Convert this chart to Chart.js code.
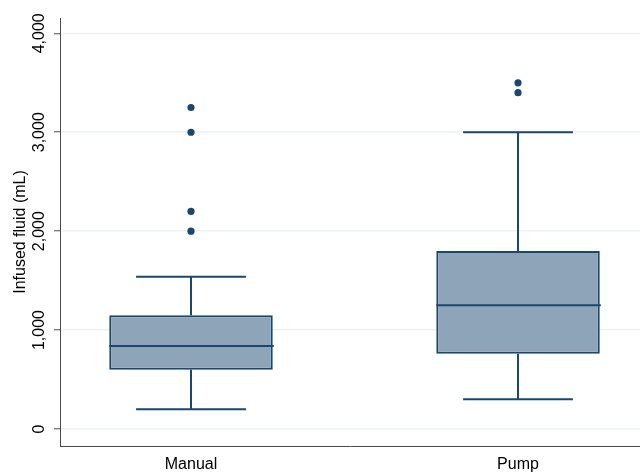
<!DOCTYPE html>
<html>
<head>
<meta charset="utf-8">
<script src="https://cdn.jsdelivr.net/npm/chart.js@4"></script>
<style>
  html, body { margin: 0; padding: 0; background: #ffffff; }
  #wrap { width: 640px; height: 473px; }
</style>
</head>
<body>
<div id="wrap"><canvas id="c" width="640" height="473"></canvas></div>
<script>
// ---- data ----
const categories = ['Manual', 'Pump'];
const q1Values = [600, 760];
const medianValues = [840, 1250];
const q3Values = [1150, 1800];
const whiskerLow = [200, 300];
const whiskerHigh = [1540, 3000];
const manualOutliers = [2000, 2200, 3000, 3250];
const pumpOutliers = [3400, 3500];
const yTickValues = [0, 1000, 2000, 3000, 4000];

const NAVY = '#1a476f';
const FILL = '#8ea4b8';
const AXIS = '#4d4d4d';
const GRID = '#eaf2f3';
const FONT = "'Liberation Sans', Arial, sans-serif";

const catPos = categories.map((c, i) => i + 1);
const boxData = categories.map((c, i) => ({ x: catPos[i], y: [q1Values[i], q3Values[i]] }));
const outlierData = [];
manualOutliers.forEach(v => outlierData.push({ x: catPos[0], y: v }));
pumpOutliers.forEach(v => outlierData.push({ x: catPos[1], y: v }));

const whiskerPlugin = {
  id: 'whiskers',
  afterDatasetsDraw(chart) {
    const { ctx, scales: { x, y } } = chart;
    const boxMeta = chart.getDatasetMeta(0);
    ctx.save();
    ctx.strokeStyle = NAVY;
    ctx.lineWidth = 2;
    categories.forEach((c, i) => {
      const cx = x.getPixelForValue(catPos[i]);
      const capL = x.getPixelForValue(catPos[i] - 0.168);
      const capR = x.getPixelForValue(catPos[i] + 0.168);
      const bar = boxMeta.data[i];
      const half = bar.width / 2;
      const yMed = y.getPixelForValue(medianValues[i]);
      const yQ1 = y.getPixelForValue(q1Values[i]);
      const yQ3 = y.getPixelForValue(q3Values[i]);
      const yLo = y.getPixelForValue(whiskerLow[i]);
      const yHi = y.getPixelForValue(whiskerHigh[i]);
      ctx.beginPath();
      ctx.moveTo(cx - half, yMed); ctx.lineTo(cx + half + 1, yMed);
      ctx.moveTo(cx, yQ3); ctx.lineTo(cx, yHi);
      ctx.moveTo(cx, yQ1); ctx.lineTo(cx, yLo);
      ctx.moveTo(capL, yHi); ctx.lineTo(capR, yHi);
      ctx.moveTo(capL, yLo); ctx.lineTo(capR, yLo);
      ctx.stroke();
    });
    ctx.restore();
  }
};

new Chart(document.getElementById('c'), {
  type: 'bar',
  data: {
    datasets: [
      {
        type: 'bar',
        data: boxData,
        backgroundColor: FILL,
        borderColor: NAVY,
        borderWidth: 2,
        borderSkipped: false,
        categoryPercentage: 1,
        barPercentage: 0.5,
        order: 2
      },
      {
        type: 'scatter',
        data: outlierData,
        backgroundColor: NAVY,
        borderColor: NAVY,
        borderWidth: 0,
        pointRadius: 3.6,
        order: 1
      }
    ]
  },
  options: {
    responsive: false,
    devicePixelRatio: 1,
    animation: false,
    layout: { autoPadding: false, padding: { top: 18, right: 0, left: 0, bottom: 0 } },
    plugins: { legend: { display: false }, tooltip: { enabled: false } },
    scales: {
      x: {
        type: 'linear',
        offset: false,
        min: 0.5994,
        max: 2.373,
        afterBuildTicks: s => { s.ticks = catPos.map(v => ({ value: v })); },
        afterFit: s => { s.height = 27; },
        grid: { display: false, offset: false },
        border: { display: true, color: AXIS, width: 1 },
        ticks: {
          padding: 1,
          color: '#000',
          font: { family: FONT, size: 16 },
          maxRotation: 0,
          autoSkip: false,
          callback: v => categories[catPos.indexOf(v)] || ''
        }
      },
      y: {
        type: 'linear',
        min: -172,
        max: 4155,
        afterBuildTicks: s => { s.ticks = yTickValues.map(v => ({ value: v })); },
        afterFit: s => { s.width = 60; },
        grid: { color: GRID, lineWidth: 1.5, tickLength: 6, tickColor: AXIS, tickWidth: 1 },
        border: { display: true, color: AXIS, width: 1 },
        title: {
          display: true,
          text: 'Infused fluid (mL)',
          color: '#000',
          font: { family: FONT, size: 16 },
          padding: { top: 11, bottom: 0 }
        },
        ticks: {
          minRotation: 90,
          maxRotation: 90,
          crossAlign: 'center',
          padding: -6,
          color: '#000',
          font: { family: FONT, size: 16 },
          autoSkip: false,
          callback: v => v.toLocaleString('en-US')
        }
      }
    }
  },
  plugins: [whiskerPlugin]
});
</script>
</body>
</html>
